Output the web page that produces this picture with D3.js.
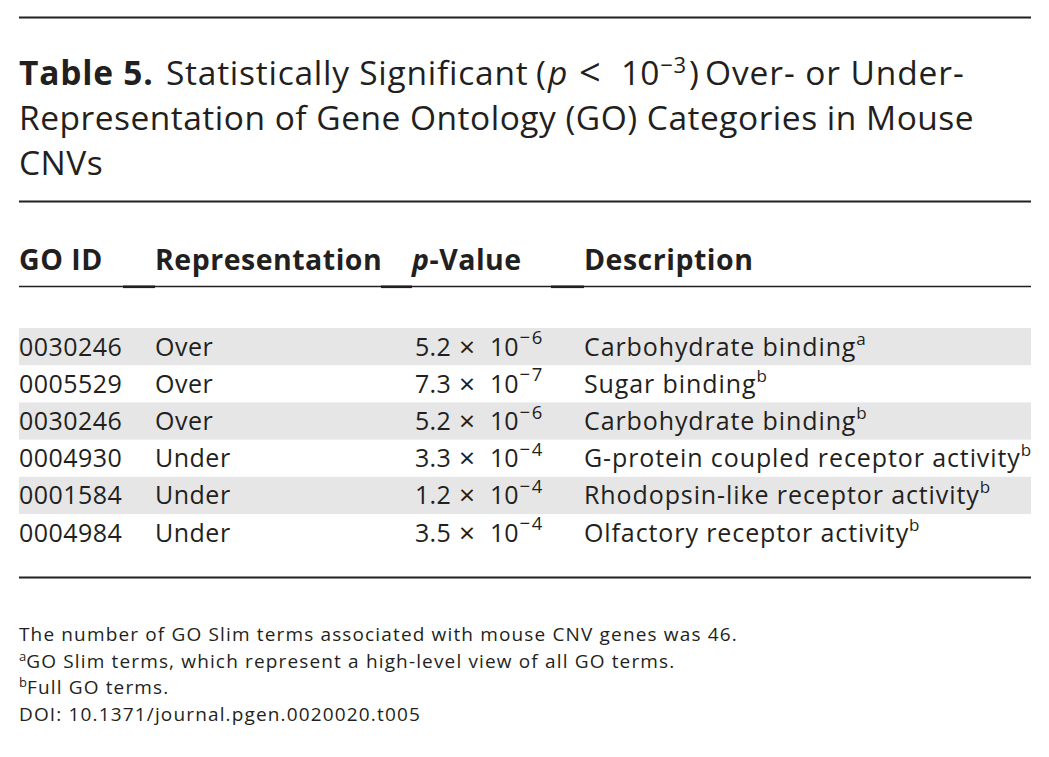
<!DOCTYPE html>
<html>
<head>
<meta charset="utf-8">
<script src="https://cdn.jsdelivr.net/npm/d3@7"></script>
<style>
  body { margin: 0; background: #fff; }
  svg { display: block; font-family: "Open Sans", "Noto Sans", sans-serif; }
</style>
</head>
<body>
<svg width="1049" height="757"></svg>
<script>
/* Data */
const headers = ['GO ID', 'Representation', 'p-Value', 'Description'];
const goIds = ['0030246', '0005529', '0030246', '0004930', '0001584', '0004984'];
const representation = ['Over', 'Over', 'Over', 'Under', 'Under', 'Under'];
const pMantissa = ['5.2', '7.3', '5.2', '3.3', '1.2', '3.5'];
const pExponent = [-6, -7, -6, -4, -4, -4];
const descriptions = ['Carbohydrate binding', 'Sugar binding', 'Carbohydrate binding',
  'G-protein coupled receptor activity', 'Rhodopsin-like receptor activity', 'Olfactory receptor activity'];
const descNotes = ['a', 'b', 'b', 'b', 'b', 'b'];
const notes = [
  ['', 'The number of GO Slim terms associated with mouse CNV genes was 46.'],
  ['a', 'GO Slim terms, which represent a high-level view of all GO terms.'],
  ['b', 'Full GO terms.'],
  ['', 'DOI: 10.1371/journal.pgen.0020020.t005']
];

/* Layout */
const INK = '#231f20';
const LEFT = 19, RIGHT = 1031;
const colX = [19, 155, 412, 584];
const svg = d3.select('svg');

const minus = n => (n < 0 ? '\u2212' + Math.abs(n) : String(n));

/* Rules */
const rule = (y, w) => svg.append('line')
  .attr('x1', LEFT).attr('x2', RIGHT).attr('y1', y).attr('y2', y)
  .attr('stroke', INK).attr('stroke-width', w);
rule(17.5, 2);
rule(201.5, 2);
rule(286.5, 1.5);
rule(577.5, 2.2);

// small thicker bits under the header gaps
const gaps = [[123, 155], [381, 412], [551, 584]];
svg.selectAll('rect.gap').data(gaps).enter().append('rect')
  .attr('class', 'gap')
  .attr('x', d => d[0]).attr('width', d => d[1] - d[0])
  .attr('y', 285.5).attr('height', 2.6)
  .attr('fill', INK);

/* Title */
const title = svg.append('g').attr('fill', INK).attr('font-size', 33.5)
  .attr('letter-spacing', 0.5);
const t1 = title.append('text').attr('y', 85);
t1.append('tspan').attr('x', LEFT).attr('font-weight', 700).attr('letter-spacing', 0.8).text('Table 5.');
t1.append('tspan').attr('x', 166).attr('letter-spacing', 0.75).text('Statistically Significant');
t1.append('tspan').attr('x', 536).text('(');
t1.append('tspan').attr('x', 548).attr('font-style', 'italic').text('p');
t1.append('tspan').attr('x', 579).attr('font-size', 38).attr('dy', 1).text('<');
t1.append('tspan').attr('x', 621).attr('dy', -1).attr('letter-spacing', 0).text('10');
t1.append('tspan').attr('dx', 1).attr('font-size', 22).attr('dy', -12).text(minus(-3));
t1.append('tspan').attr('x', 689).attr('dy', 12).text(')');
t1.append('tspan').attr('x', 705).attr('letter-spacing', 0.9).text('Over- or Under-');
title.append('text').attr('x', LEFT).attr('y', 130)
  .text('Representation of Gene Ontology (GO) Categories in Mouse');
title.append('text').attr('x', LEFT).attr('y', 175).text('CNVs');

/* Header */
const head = svg.append('g').attr('fill', INK).attr('font-size', 28.5).attr('font-weight', 700)
  .attr('letter-spacing', 0.5);
head.selectAll('text').data(headers).enter().append('text')
  .attr('x', (d, i) => colX[i]).attr('y', 270)
  .each(function (d) {
    const t = d3.select(this);
    if (d.startsWith('p-')) {
      t.append('tspan').attr('font-style', 'italic').text('p');
      t.append('tspan').text(d.slice(1));
    } else {
      t.text(d);
    }
  });

/* Rows */
const y = d3.scaleBand().domain(d3.range(goIds.length)).range([328, 551.2]);

svg.append('g').selectAll('rect').data(goIds).enter()
  .filter((d, i) => i % 2 === 0)
  .append('rect')
  .attr('x', LEFT).attr('width', RIGHT - LEFT)
  .attr('y', (d, i) => y(i * 2)).attr('height', y.bandwidth())
  .attr('fill', '#e6e6e6');

const rows = svg.append('g').attr('fill', INK).attr('font-size', 25)
  .selectAll('g').data(goIds).enter().append('g')
  .attr('transform', (d, i) => `translate(0,${y(i) + 27.6})`);

rows.append('text').attr('x', colX[0]).attr('letter-spacing', 0.45).text(d => d);
rows.append('text').attr('x', colX[1]).attr('letter-spacing', 0.5).text((d, i) => representation[i]);

const pv = rows.append('text');
pv.append('tspan').attr('x', 415).attr('letter-spacing', 0.3).text((d, i) => pMantissa[i]);
pv.append('tspan').attr('x', 459).attr('font-size', 28).attr('dy', 1).text('\u00d7');
pv.append('tspan').attr('x', 490).attr('dy', -1).text('10');
pv.append('tspan').attr('dx', 1).attr('font-size', 18.5).attr('letter-spacing', 1.5).attr('dy', -11.5)
  .text((d, i) => minus(pExponent[i]));

const desc = rows.append('text').attr('x', colX[3]);
desc.append('tspan').attr('letter-spacing', 0.9).text((d, i) => descriptions[i]);
desc.append('tspan').attr('font-size', 17).attr('dy', -11).text((d, i) => descNotes[i]);

/* Notes */
const foot = svg.append('g').attr('fill', INK).attr('font-size', 19).attr('letter-spacing', 1.15);
foot.selectAll('text').data(notes).enter().append('text')
  .attr('x', LEFT).attr('y', (d, i) => 641 + i * 26.6)
  .each(function (d) {
    const t = d3.select(this);
    if (d[0]) {
      t.append('tspan').attr('font-size', 13).attr('letter-spacing', 0).attr('dy', -7).text(d[0]);
      t.append('tspan').attr('dy', 7).text(d[1]);
    } else {
      t.text(d[1]);
    }
  });
</script>
</body>
</html>
